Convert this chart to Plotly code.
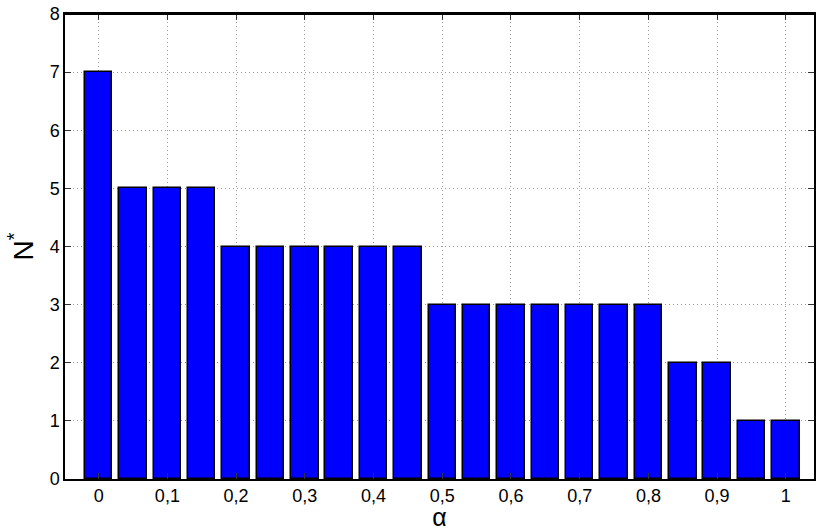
import plotly.graph_objects as go

# alpha values and the resulting N* for each bar
alpha = [0.00, 0.05, 0.10, 0.15, 0.20, 0.25, 0.30, 0.35, 0.40, 0.45, 0.50,
         0.55, 0.60, 0.65, 0.70, 0.75, 0.80, 0.85, 0.90, 0.95, 1.00]
n_star = [7, 5, 5, 5, 4, 4, 4, 4, 4, 4, 3,
          3, 3, 3, 3, 3, 3, 2, 2, 1, 1]

x_tick_vals = [0.0, 0.1, 0.2, 0.3, 0.4, 0.5, 0.6, 0.7, 0.8, 0.9, 1.0]
x_tick_text = ["0", "0,1", "0,2", "0,3", "0,4", "0,5", "0,6", "0,7", "0,8", "0,9", "1"]
y_tick_vals = [0, 1, 2, 3, 4, 5, 6, 7, 8]

font_family = "Liberation Sans, Arial, Helvetica, sans-serif"

fig = go.Figure(
    go.Bar(
        x=alpha,
        y=n_star,
        width=0.04,
        marker=dict(color="#0000FF", line=dict(color="#000000", width=1.5)),
    )
)

axis_common = dict(
    showline=True,
    linecolor="#000000",
    linewidth=1.5,
    mirror="ticks",
    ticks="inside",
    ticklen=6,
    tickwidth=1,
    tickcolor="#333333",
    showgrid=True,
    gridcolor="#9a9a9a",
    gridwidth=1,
    griddash="1px,3px",
    zeroline=False,
    tickfont=dict(family=font_family, size=18, color="#000000"),
)

fig.update_xaxes(
    range=[-0.049, 1.041],
    tickmode="array",
    tickvals=x_tick_vals,
    ticktext=x_tick_text,
    title=dict(text="α", font=dict(family=font_family, size=25, color="#000000"), standoff=7),
    **axis_common,
)
fig.update_yaxes(
    range=[0, 8],
    tickmode="array",
    tickvals=y_tick_vals,
    title=dict(text="N<sup>*</sup>", font=dict(family=font_family, size=28, color="#000000"), standoff=8),
    **axis_common,
)

# top frame edge of the axes box, drawn at the upper y limit
fig.add_shape(
    type="line", xref="paper", yref="y",
    x0=0, x1=1, y0=8, y1=8,
    line=dict(color="#000000", width=2),
    layer="above",
)

fig.update_layout(
    width=816,
    height=531,
    margin=dict(l=65, r=0, t=14, b=52),
    plot_bgcolor="#ffffff",
    paper_bgcolor="#ffffff",
    showlegend=False,
    bargap=0,
)

fig.write_html("out.html")
